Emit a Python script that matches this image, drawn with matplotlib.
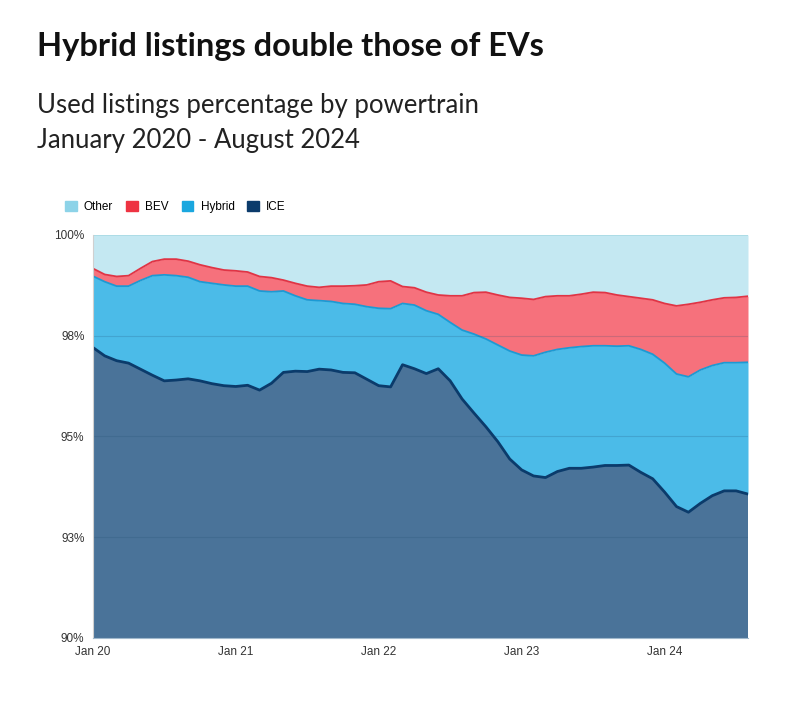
import numpy as np
import matplotlib.pyplot as plt
from matplotlib.patches import Patch

# monthly shares (%), Jan 2020 .. Aug 2024
ice = [97.21, 97.00, 96.88, 96.82, 96.67, 96.52, 96.38, 96.40, 96.43, 96.38,
       96.31, 96.26, 96.24, 96.27, 96.15, 96.32, 96.59, 96.62, 96.61, 96.67,
       96.65, 96.59, 96.58, 96.42, 96.26, 96.23, 96.78, 96.68, 96.56, 96.68,
       96.38, 95.93, 95.58, 95.24, 94.87, 94.44, 94.17, 94.02, 93.98, 94.13,
       94.21, 94.21, 94.24, 94.28, 94.28, 94.29, 94.11, 93.95, 93.62, 93.26,
       93.12, 93.34, 93.53, 93.65, 93.65, 93.57]
hybrid = [1.77, 1.84, 1.85, 1.91, 2.20, 2.47, 2.63, 2.59, 2.52, 2.46,
          2.49, 2.50, 2.49, 2.46, 2.46, 2.27, 2.02, 1.87, 1.78, 1.70,
          1.70, 1.71, 1.70, 1.80, 1.92, 1.94, 1.52, 1.58, 1.56, 1.35,
          1.45, 1.71, 1.96, 2.18, 2.40, 2.68, 2.85, 2.98, 3.11, 3.03,
          2.99, 3.02, 3.01, 2.97, 2.96, 2.96, 3.05, 3.09, 3.20, 3.29,
          3.36, 3.31, 3.23, 3.18, 3.18, 3.27]
bev = [0.19, 0.18, 0.24, 0.26, 0.30, 0.35, 0.39, 0.41, 0.40, 0.42,
       0.39, 0.37, 0.38, 0.35, 0.36, 0.35, 0.27, 0.31, 0.34, 0.33,
       0.38, 0.43, 0.46, 0.54, 0.66, 0.69, 0.42, 0.43, 0.46, 0.48,
       0.66, 0.85, 1.03, 1.16, 1.24, 1.33, 1.41, 1.40, 1.38, 1.33,
       1.29, 1.30, 1.33, 1.32, 1.27, 1.22, 1.27, 1.35, 1.48, 1.69,
       1.80, 1.68, 1.63, 1.61, 1.62, 1.64]

tick_months = [0, 12, 24, 36, 48]
tick_labels = ['Jan 20', 'Jan 21', 'Jan 22', 'Jan 23', 'Jan 24']
y_ticks = [90, 92.5, 95, 97.5, 100]
y_labels = ['90%', '93%', '95%', '98%', '100%']

months = np.arange(len(ice))
ice = np.array(ice)
hyb_top = ice + np.array(hybrid)
bev_top = hyb_top + np.array(bev)
other = 100 - bev_top

fig = plt.figure(figsize=(8, 7.12), dpi=100)
ax = fig.add_axes([0.116, 0.104, 0.819, 0.566])

ax.fill_between(months, bev_top, bev_top + other, color='#c4e8f2', lw=0)
ax.fill_between(months, hyb_top, bev_top, color='#f6717c', lw=0)
ax.fill_between(months, ice, hyb_top, color='#4bbbe8', lw=0)
ax.fill_between(months, 0, ice, color='#4a7399', lw=0)

ax.plot(months, bev_top + other, color='#a3d8e3', lw=1.2)
ax.plot(months, bev_top, color='#e03445', lw=1.3)
ax.plot(months, hyb_top, color='#1c9ad4', lw=1.3)
ax.plot(months, ice, color='#0b3b6b', lw=2)

for y in y_ticks[1:-1]:
    ax.axhline(y, color='#1f4b70', lw=0.8, alpha=0.2)

ax.set_xlim(0, len(ice) - 1)
ax.set_ylim(90, 100)
ax.set_xticks(tick_months)
ax.set_xticklabels(tick_labels)
ax.set_yticks(y_ticks)
ax.set_yticklabels(y_labels)
ax.tick_params(length=0, labelsize=8.5, colors='#333333', pad=6)
for lab in ax.get_xticklabels() + ax.get_yticklabels():
    lab.set_family('Liberation Sans')
for s in ['top', 'right']:
    ax.spines[s].set_visible(False)
ax.spines['left'].set_color('#d0d0d0')
ax.spines['bottom'].set_color('#a0b8cc')

handles = [Patch(color='#8dd3e8', label='Other'),
           Patch(color='#ee3342', label='BEV'),
           Patch(color='#1aa7df', label='Hybrid'),
           Patch(color='#0b3b6b', label='ICE')]
fig.legend(handles=handles, loc='upper left', bbox_to_anchor=(0.068, 0.733),
           ncol=4, frameon=False, handlelength=1.0, handleheight=1.0,
           handletextpad=0.6, columnspacing=1.1,
           prop={'family': 'Liberation Sans', 'size': 8.5})

fig.text(0.046, 0.934, 'Hybrid listings double those of EVs',
         fontsize=23.5, fontweight='bold', family='Lato', va='center',
         color='#111111')
fig.text(0.046, 0.852, 'Used listings percentage by powertrain',
         fontsize=18.5, family='Lato', va='center', color='#222222')
fig.text(0.046, 0.802, 'January 2020 - August 2024',
         fontsize=18.5, family='Lato', va='center', color='#222222')

fig.savefig('out.png', dpi=100)
